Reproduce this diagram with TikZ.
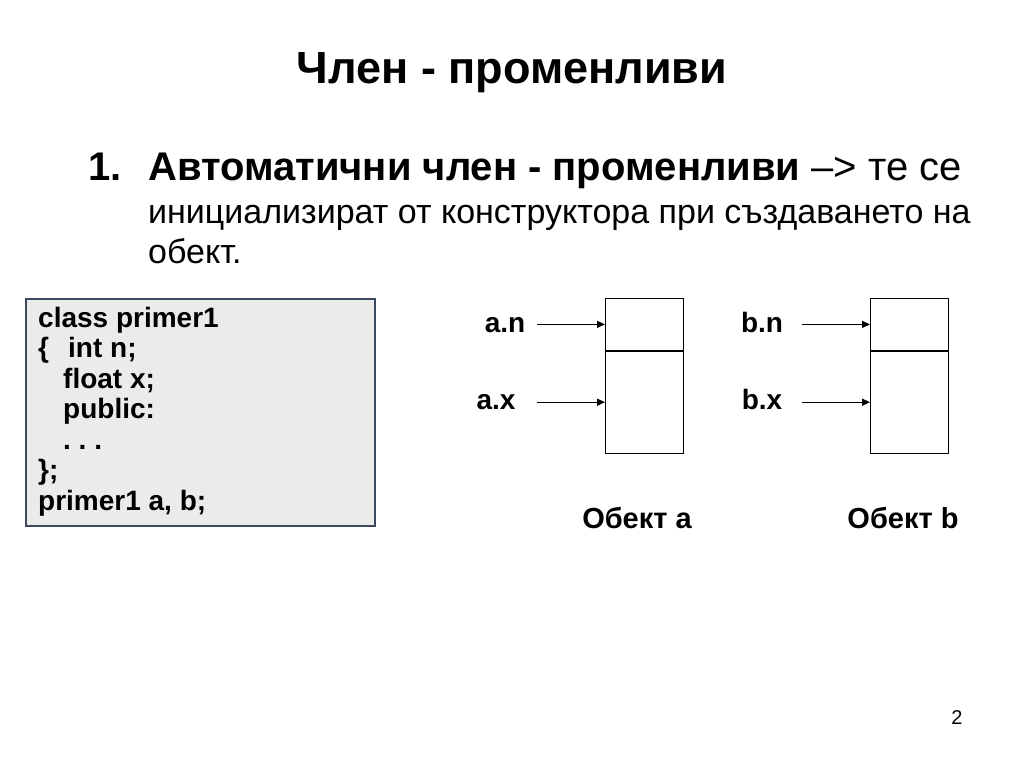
\documentclass[tikz,border=0pt]{standalone}
\usepackage{fontspec}
\setmainfont{Liberation Sans}
\usepackage[HTML]{xcolor}
\usetikzlibrary{positioning, arrows, arrows.meta}

\definecolor{codebg}{HTML}{EBEBEB}
\definecolor{codeframe}{HTML}{3B4A5E}

\tikzset{
  field/.style={draw, line width=0.8pt, minimum width=78pt, inner sep=0pt},
  lbl/.style={font=\fontsize{28}{32}\selectfont\bfseries, inner sep=0pt, anchor=base},
  ptr/.style={line width=1.1pt, -{Triangle[length=8pt,width=7pt]}},
  body/.style={anchor=base west, inner sep=0pt},
}

\begin{document}
\begin{tikzpicture}[x=1pt, y=-1pt]
\useasboundingbox (0,0) rectangle (1024,768);

% title and text
\node[anchor=base, inner sep=0pt, font=\fontsize{45}{50}\selectfont\bfseries] (title) at (512,83) {Член - променливи};
\node[body, font=\fontsize{40}{44}\selectfont\bfseries] (num) at (88,180) {1.};
\node[body, font=\fontsize{40}{44}\selectfont] (item1) at (148,180) {\textbf{Автоматични член - променливи} –> те се};
\node[body, font=\fontsize{34}{42}\selectfont] (item2) at (148,223) {инициализират от конструктора при създаването на};
\node[body, font=\fontsize{34}{42}\selectfont] (item3) at (148,263) {обект.};

% code
\node[draw=codeframe, fill=codebg, line width=1.5pt, minimum width=349pt, minimum height=227pt, anchor=north west] (code) at (25,298) {};
\node[anchor=north west, align=left, inner sep=0pt, font=\fontsize{28}{30.5}\selectfont\bfseries] (codetext) at (38,307)
  {class primer1\\ \makebox[30pt][l]{\{}int n;\\ \hspace*{25pt}float x;\\ \hspace*{25pt}public:\\ \hspace*{25pt}.\ .\ .\\ \};\\ primer1 a, b;};

% object a
\node[field, minimum height=52pt, anchor=north west] (an) at (605,298) {};
\node[field, minimum height=102pt, below=0pt of an] (ax) {};
\node[lbl] (lan) at (505,332) {a.n};
\node[lbl] (lax) at (496,409) {a.x};
\coordinate (tailA) at (537,0);
\draw[ptr] (tailA |- an.west) -- (an.west);
\draw[ptr] (tailA |- ax.west) -- (ax.west);
\node[lbl, font=\fontsize{29}{32}\selectfont\bfseries] (obja) at (637,528) {Обект a};

% object b
\node[field, minimum height=52pt, anchor=north west] (bn) at (870,298) {};
\node[field, minimum height=102pt, below=0pt of bn] (bx) {};
\node[lbl] (lbn) at (762,332) {b.n};
\node[lbl] (lbx) at (762,409) {b.x};
\coordinate (tailB) at (802,0);
\draw[ptr] (tailB |- bn.west) -- (bn.west);
\draw[ptr] (tailB |- bx.west) -- (bx.west);
\node[lbl, font=\fontsize{29}{32}\selectfont\bfseries] (objb) at (903,528) {Обект b};

\node[font=\fontsize{20}{24}\selectfont] (page) at (957,718) {2};
\end{tikzpicture}
\end{document}
